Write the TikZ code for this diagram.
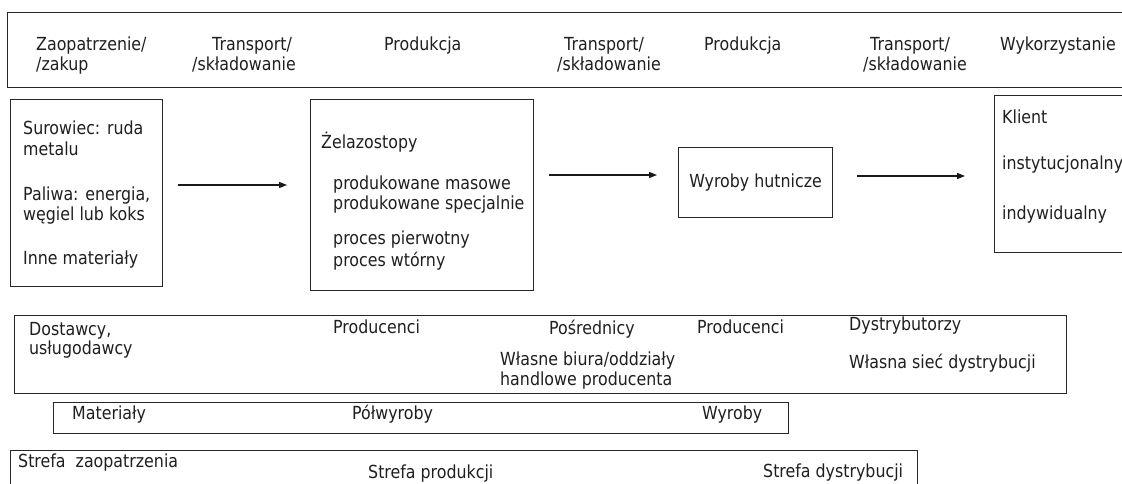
\documentclass[tikz,border=0pt]{standalone}
\usepackage{fontspec}
\setmainfont{DejaVu Sans}[FakeStretch=0.88]
\usetikzlibrary{arrows.meta}
\newcommand\fsz{\fontsize{18}{20}\selectfont}
\begin{document}
\begin{tikzpicture}[x=1pt,y=-1pt,
  lbl/.style={anchor=base west, inner sep=0pt, font=\fsz, text=black!88},
  box/.style={draw=black!85, line width=1.1pt, inner sep=0pt, anchor=north west, font=\fsz, text=black!88},
  arr/.style={draw=black!90, line width=1.1pt, -{Triangle[length=8pt,width=6pt]}}]
\useasboundingbox (0,0) rectangle (1122,483);
\fill[white] (0,0) rectangle (1122,483);

% header band (open to the right)
\node[box, minimum width=1130pt, minimum height=75pt] (band) at (7,12) {};
\node[lbl] (h1)  at (36,50)  {Zaopatrzenie/};
\node[lbl] (h1b) at (36,70)  {/zakup};
\node[lbl] (h2)  at (212,50) {Transport/};
\node[lbl] (h2b) at (192,70) {/składowanie};
\node[lbl] (h3)  at (384,50) {Produkcja};
\node[lbl] (h4)  at (564,50) {Transport/};
\node[lbl] (h4b) at (557,70) {/składowanie};
\node[lbl] (h5)  at (704,50) {Produkcja};
\node[lbl] (h6)  at (870,50) {Transport/};
\node[lbl] (h6b) at (863,70) {/składowanie};
\node[lbl] (h7)  at (1000,50) {Wykorzystanie};

% middle row
\node[box, minimum width=152pt, minimum height=187pt] (src) at (10,99) {};
\node[lbl] (s1) at (23,134) {Surowiec: ruda};
\node[lbl] (s2) at (23,155) {metalu};
\node[lbl] (s3) at (23,200) {Paliwa: energia,};
\node[lbl] (s4) at (23,220) {węgiel lub koks};
\node[lbl] (s5) at (23,264) {Inne materiały};

\node[box, minimum width=223pt, minimum height=191pt] (fe) at (310,99) {};
\node[lbl] (f1) at (321,148) {Żelazostopy};
\node[lbl] (f2) at (333,189) {produkowane masowe};
\node[lbl] (f3) at (333,209) {produkowane specjalnie};
\node[lbl] (f4) at (333,244) {proces pierwotny};
\node[lbl] (f5) at (333,266) {proces wtórny};

\node[box, minimum width=154pt, minimum height=70pt] (wh) at (678,147) {};
\node[font=\fsz, text=black!88, inner sep=0pt] (wht) at (wh.center) {Wyroby hutnicze};

\node[box, minimum width=150pt, minimum height=157pt] (kl) at (994,95) {};
\node[lbl] (k1) at (1002,123) {Klient};
\node[lbl] (k2) at (1002,169) {instytucjonalny};
\node[lbl] (k3) at (1002,219) {indywidualny};

\coordinate (a1s) at (178,185); \coordinate (a1e) at (287,185);
\coordinate (a2s) at (549,175); \coordinate (a2e) at (657,175);
\coordinate (a3s) at (857,176); \coordinate (a3e) at (965,176);
\draw[arr] (a1s) -- (a1e);
\draw[arr] (a2s) -- (a2e);
\draw[arr] (a3s) -- (a3e);

% actors row
\node[box, minimum width=1052pt, minimum height=78pt] (act) at (14,315) {};
\node[lbl] (d1) at (29,335) {Dostawcy,};
\node[lbl] (d2) at (29,354) {usługodawcy};
\node[lbl] (d3) at (333,333) {Producenci};
\node[lbl] (d4) at (549,334) {Pośrednicy};
\node[lbl] (d5) at (500,365) {Własne biura/oddziały};
\node[lbl] (d6) at (500,385) {handlowe producenta};
\node[lbl] (d7) at (697,333) {Producenci};
\node[lbl] (d8) at (849,330) {Dystrybutorzy};
\node[lbl] (d9) at (849,368) {Własna sieć dystrybucji};

% goods row
\node[box, minimum width=735pt, minimum height=31pt] (goods) at (53,402) {};
\node[lbl] (g1) at (72,419)  {Materiały};
\node[lbl] (g2) at (352,419) {Półwyroby};
\node[lbl] (g3) at (702,419) {Wyroby};

% zones row (open at the bottom)
\node[box, minimum width=907pt, minimum height=60pt] (zone) at (10,450) {};
\node[lbl] (z1) at (18,467)  {Strefa\ \ zaopatrzenia};
\node[lbl] (z2) at (368,478) {Strefa produkcji};
\node[lbl] (z3) at (763,477) {Strefa dystrybucji};
\end{tikzpicture}
\end{document}
